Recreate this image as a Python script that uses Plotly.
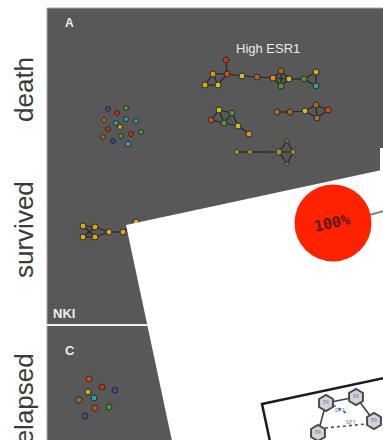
import plotly.graph_objects as go

# ---- palette for gene nodes ----
ORANGE = "#e8900a"
GOLD = "#d8a810"
YELLOW = "#c8c018"
RED = "#c83018"
REDOR = "#d04a12"
GREEN = "#4a9a28"
TEAL = "#30a0a8"
NAVY = "#404a90"
BROWN = "#b0661a"
CYAN = "#28b8d8"

# ---- panel A, "death": isolated genes ----
iso_a_x = [108, 117, 126, 104, 126, 136, 116, 120, 108, 103, 121, 131, 141, 113, 128]
iso_a_y = [109, 113, 108, 120, 119, 121, 123, 127, 129, 137, 136, 134, 132, 141, 144]
iso_a_c = [NAVY, RED, GREEN, BROWN, TEAL, TEAL, TEAL, GOLD, RED, BROWN, GREEN, RED, GREEN, NAVY, CYAN]

# ---- panel A, "death": High ESR1 modules ----
net1_x = [226, 227, 213, 205, 218, 242, 257, 273, 281, 289, 281, 304, 316, 316]
net1_y = [60, 74, 74, 85, 85, 76, 77, 78, 71, 79, 86, 79, 72, 86]
net1_c = [RED, REDOR, ORANGE, GOLD, YELLOW, YELLOW, BROWN, ORANGE, BROWN, YELLOW, GREEN, GREEN, GOLD, TEAL]
net1_e = [(0, 1), (1, 2), (2, 3), (3, 4), (2, 4), (1, 4), (1, 5), (5, 6), (6, 7), (7, 8),
          (8, 9), (9, 10), (10, 7), (7, 9), (8, 10), (9, 11), (11, 12), (11, 13), (12, 13)]

net2_x = [219, 232, 211, 224, 238, 249]
net2_y = [110, 113, 120, 123, 126, 134]
net2_c = [YELLOW, GREEN, REDOR, GREEN, YELLOW, ORANGE]
net2_e = [(0, 2), (0, 3), (0, 1), (2, 3), (3, 1), (1, 4), (3, 4), (4, 5)]

net3_x = [277, 290, 305, 316, 328, 317]
net3_y = [112, 112, 111, 105, 110, 118]
net3_c = [BROWN, BROWN, YELLOW, BROWN, REDOR, BROWN]
net3_e = [(0, 1), (1, 2), (2, 3), (2, 5), (3, 4), (5, 4), (3, 5)]

net4_x = [237, 250, 265, 279, 287, 293, 287]
net4_y = [152, 152, 152, 152, 141, 152, 164]
net4_c = [YELLOW, YELLOW, "#4a6a20", YELLOW, BROWN, YELLOW, GREEN]
net4_s = [5, 5, 3, 6, 5, 5, 5]
net4_e = [(0, 1), (1, 2), (2, 3), (3, 4), (4, 5), (5, 6), (6, 3), (3, 5)]

# ---- "survived" module ----
surv_x = [83, 95, 83, 95, 109, 123, 136]
surv_y = [226, 227, 237, 237, 232, 232, 222]
surv_c = [GOLD] * 7
surv_e = [(0, 1), (2, 3), (0, 3), (2, 1), (1, 4), (3, 4), (4, 5), (5, 6)]

# ---- panel C, "relapsed": isolated genes ----
iso_c_x = [89, 102, 115, 88, 94, 79, 95, 109, 85]
iso_c_y = [379, 387, 390, 392, 398, 400, 408, 407, 416]
iso_c_c = [REDOR, RED, NAVY, GOLD, TEAL, BROWN, REDOR, GREEN, NAVY]

# ---- inset: pie node and hexagon network ----
pie_x, pie_y, pie_label = [333], [223], ["100%"]
hex_x = [326, 356, 318, 374]
hex_y = [403, 397, 433, 421]
hex_e = [(0, 1), (1, 3), (0, 2)]

fig = go.Figure()


def edge_trace(xs, ys, edges, color="#262626", width=1.2, dash="solid"):
    ex, ey = [], []
    for a, b in edges:
        ex += [xs[a], xs[b], None]
        ey += [ys[a], ys[b], None]
    return go.Scatter(x=ex, y=ey, mode="lines", hoverinfo="skip",
                      line=dict(color=color, width=width, dash=dash))


def node_trace(xs, ys, colors, size=5):
    return go.Scatter(x=xs, y=ys, mode="markers", hoverinfo="skip",
                      marker=dict(color=colors, size=size,
                                  line=dict(color="#2a2a2a", width=1)))


for xs, ys, cs, es in [(net1_x, net1_y, net1_c, net1_e),
                       (net2_x, net2_y, net2_c, net2_e),
                       (net3_x, net3_y, net3_c, net3_e),
                       (surv_x, surv_y, surv_c, surv_e)]:
    fig.add_trace(edge_trace(xs, ys, es))
    fig.add_trace(node_trace(xs, ys, cs, 6))

fig.add_trace(edge_trace(net4_x, net4_y, net4_e))
fig.add_trace(node_trace(net4_x, net4_y, net4_c, net4_s))
fig.add_trace(node_trace(iso_a_x, iso_a_y, iso_a_c, 5))
fig.add_trace(node_trace(iso_c_x, iso_c_y, iso_c_c, 6))

# white rotated inset sheet on top of the panels
fig.add_trace(go.Scatter(x=[126, 384, 384, 172, 126], y=[225, 169.5, 441, 441, 225],
                         mode="lines", fill="toself", fillcolor="#ffffff",
                         line=dict(width=0), hoverinfo="skip"))
fig.add_trace(go.Scatter(x=[380, 384, 384, 380, 380], y=[148, 148, 441, 441, 148],
                         mode="lines", fill="toself", fillcolor="#ffffff",
                         line=dict(width=0), hoverinfo="skip"))

# pie node with its outgoing edge
fig.add_trace(go.Scatter(x=[369, 384], y=[215, 211], mode="lines",
                         line=dict(color="#808080", width=2), hoverinfo="skip"))
fig.add_trace(go.Scatter(x=pie_x, y=pie_y, mode="markers", hoverinfo="skip",
                         marker=dict(color="#ff2200", size=77, line=dict(width=0))))

# framed sub-network on the inset
fig.add_trace(go.Scatter(x=[269.7, 262, 384], y=[440, 404, 378], mode="lines",
                         line=dict(color="#1c1c1c", width=2.5), hoverinfo="skip"))
fig.add_trace(edge_trace(hex_x, hex_y, hex_e, color="#404040", width=1.6))
fig.add_trace(go.Scatter(x=[333, 346, None, 325, 366], y=[405, 413, None, 428, 424],
                         mode="lines", hoverinfo="skip",
                         line=dict(color="#505050", width=1.6, dash="dot")))
fig.add_trace(go.Scatter(x=hex_x, y=hex_y, mode="markers+text", hoverinfo="skip",
                         text=["ER"] * 4, textfont=dict(size=5, color="#5a78c8"),
                         marker=dict(symbol="hexagon", size=16, color="#d4d4d4",
                                     line=dict(color="#4a4a4a", width=2))))
fig.add_trace(go.Scatter(x=[340, 351], y=[410, 422], mode="text", hoverinfo="skip",
                         text=["SP1", "SP1"], textfont=dict(size=6, color="#4a78d0")))

shapes = [
    dict(type="rect", x0=47, x1=385, y0=8, y1=442, fillcolor="#585858",
         line=dict(color="#a8a8a8", width=1), layer="below"),
    dict(type="line", x0=47, x1=170, y0=325, y1=325,
         line=dict(color="#eeeeee", width=2), layer="below"),
]

annotations = [
    dict(x=69.5, y=23, text="<b>A</b>", font=dict(size=12, color="#eeeeee")),
    dict(x=70, y=350, text="<b>C</b>", font=dict(size=13, color="#eeeeee")),
    dict(x=64, y=313, text="<b>NKI</b>", font=dict(size=13, color="#f0f0f0")),
    dict(x=268, y=48, text="High ESR1", font=dict(size=13, color="#eaeaea")),
    dict(x=24, y=90, text="death", textangle=-90, font=dict(size=26, color="#3a3a3a")),
    dict(x=24, y=230, text="survived", textangle=-90, font=dict(size=26, color="#3a3a3a")),
    dict(x=24, y=403, text="relapsed", textangle=-90, font=dict(size=26, color="#3a3a3a")),
    dict(x=pie_x[0] - 1, y=pie_y[0], text="<b>" + pie_label[0] + "</b>", textangle=-12,
         font=dict(size=15, color="#5a1810", family="DejaVu Sans Mono")),
]
for a in annotations:
    a.update(xref="x", yref="y", showarrow=False)
    a["font"].setdefault("family", "Liberation Sans, Arial, sans-serif")

fig.update_layout(
    width=383, height=440,
    margin=dict(l=0, r=0, t=0, b=0, pad=0),
    paper_bgcolor="#ffffff", plot_bgcolor="#ffffff",
    showlegend=False,
    shapes=shapes, annotations=annotations,
    xaxis=dict(range=[0, 383], visible=False, fixedrange=True),
    yaxis=dict(range=[440, 0], visible=False, fixedrange=True),
)

fig.write_html("out.html", config={"displayModeBar": False})
